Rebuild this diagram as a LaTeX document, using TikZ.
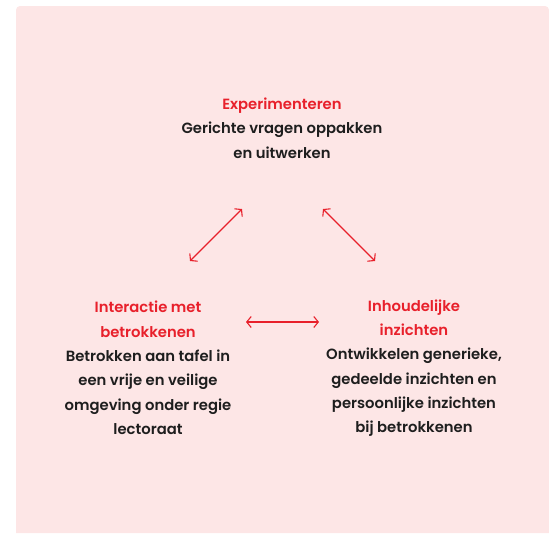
\documentclass[tikz,border=0pt]{standalone}
\usepackage{fontspec}
\setmainfont{Poppins}[UprightFont=* SemiBold]
\usepackage{tikz}
\usetikzlibrary{arrows.meta}
\definecolor{bgpink}{HTML}{FDE6E6}
\definecolor{hdred}{HTML}{E8202B}
\definecolor{txtdark}{HTML}{1E1E1E}

\begin{document}
\begin{tikzpicture}[x=1pt,y=-1pt]
					\tikzstyle{block}=[align=center,inner sep=0pt,font=\fontsize{14.8}{24.3}\selectfont,text=txtdark]
					\tikzstyle{link}=[draw=hdred,line width=1.1pt,{Straight Barb[length=4.5pt,width=11pt]}-{Straight Barb[length=4.5pt,width=11pt]}]
					\useasboundingbox (0,0) rectangle (549,533);
					\fill[bgpink] (16,533) [rounded corners=4pt] -- (16,6) -- (549,6) [sharp corners] -- (549,533) -- cycle;
					\node[block] (exp) at (282,128) {\textcolor{hdred}{Experimenteren}\\Gerichte vragen oppakken\\en uitwerken};
					\node[block] (int) at (148,368) {\textcolor{hdred}{Interactie met}\\\textcolor{hdred}{betrokkenen}\\Betrokken aan tafel in\\een vrije en veilige\\omgeving onder regie\\lectoraat};
					\node[block] (inh) at (414,368) {\textcolor{hdred}{Inhoudelijke}\\\textcolor{hdred}{inzichten}\\Ontwikkelen generieke,\\gedeelde inzichten en\\persoonlijke inzichten\\bij betrokkenen};
					\coordinate (a1) at (190,261);
					\coordinate (a2) at (242,209);
					\coordinate (b1) at (323,209);
					\coordinate (b2) at (375,261);
					\coordinate (c1) at (246,322);
					\coordinate (c2) at (319,322);
					\draw[link] (a1) -- (a2);
					\draw[link] (b1) -- (b2);
					\draw[link] (c1) -- (c2);
					\end{tikzpicture}
\end{document}
